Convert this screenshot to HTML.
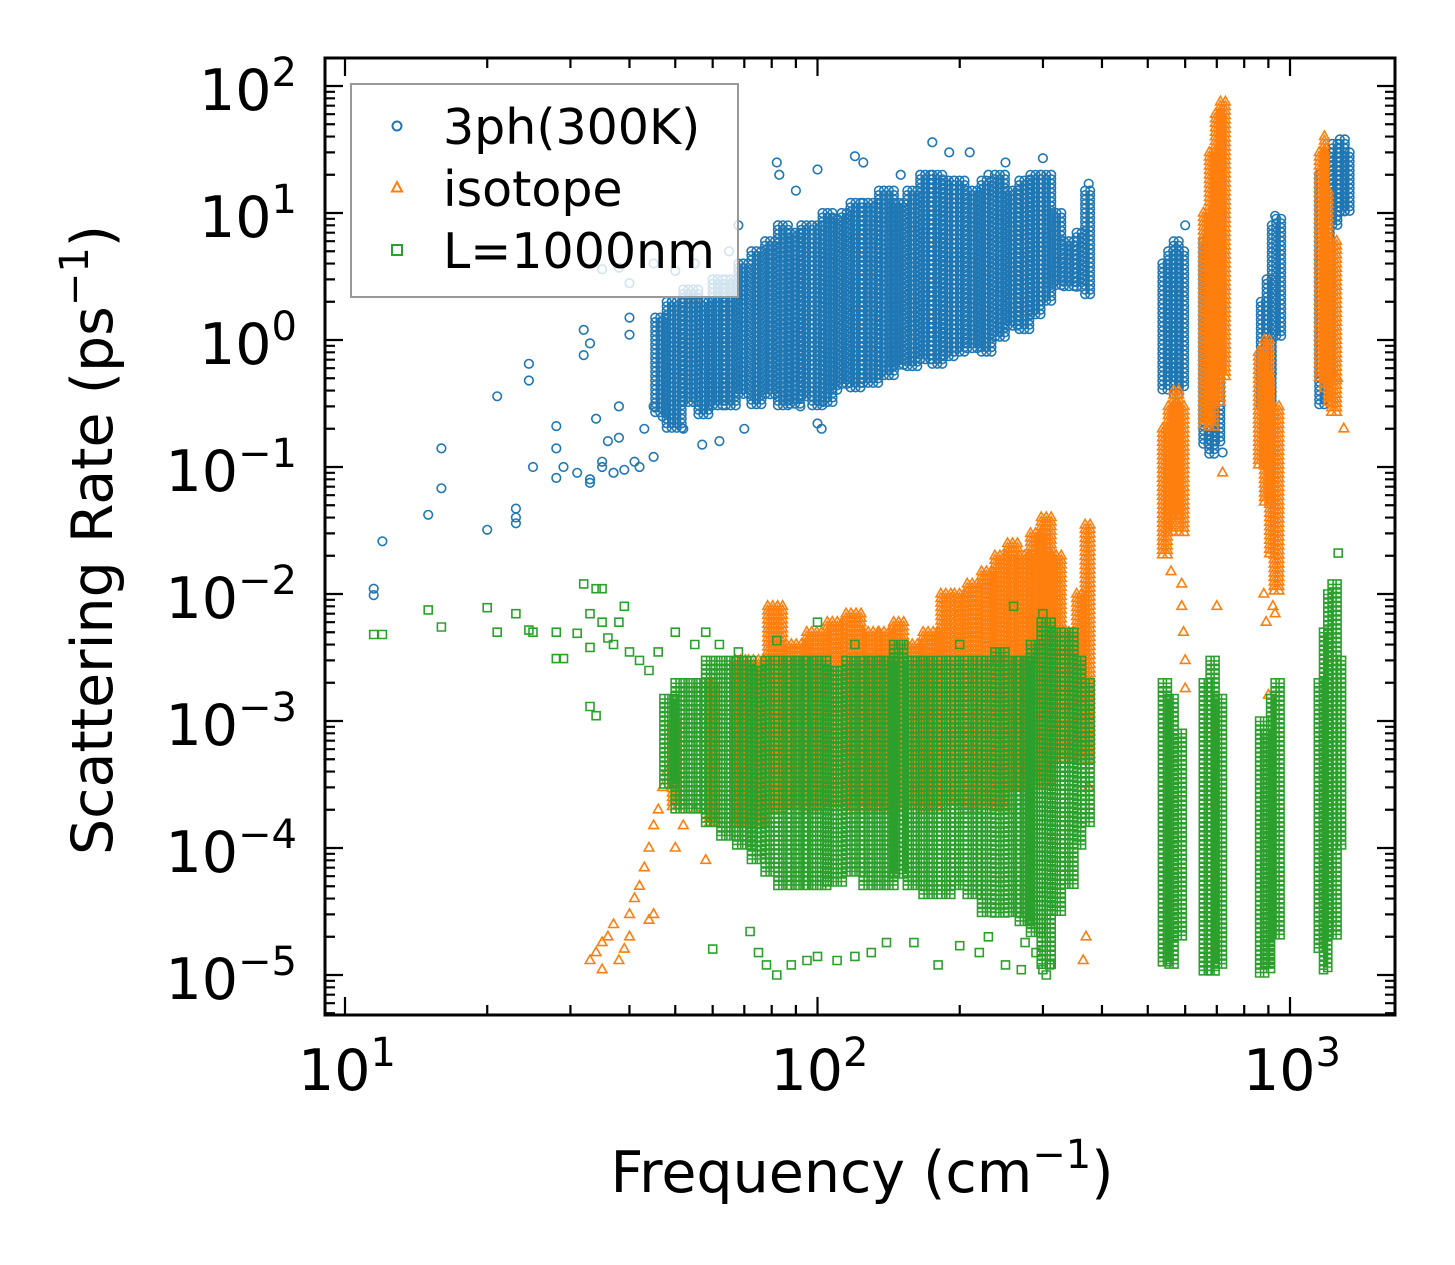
<!DOCTYPE html>
<html><head><meta charset="utf-8">
<style>
html,body{margin:0;padding:0;background:#fff;}
svg{display:block;font-family:"DejaVu Sans","Liberation Sans",sans-serif;}
</style></head>
<body>
<svg id="chart" width="1455" height="1265" viewBox="0 0 1455 1265" xmlns="http://www.w3.org/2000/svg">
<rect x="0" y="0" width="1455" height="1265" fill="#fff"/>
<g id="marks"></g>
<g id="axes"></g>
<g id="legend"></g>
</svg>
<script>
// ---- data (frequency cm^-1, rate ps^-1) ----
// dense bands: [freq, low, high]
const blueBands = [[46,0.25,1.5],[50,0.2,2],[54,0.3,2.5],[58,0.25,2],[62,0.3,3],[66,0.3,3],[70,0.35,4],[75,0.3,5],[80,0.35,6],[85,0.3,8],[90,0.3,7],[95,0.35,8],[100,0.3,8],[105,0.3,10],[110,0.4,9],[115,0.45,10],[120,0.4,12],[130,0.45,12],[140,0.5,15],[150,0.6,12],[160,0.6,15],[170,0.7,20],[180,0.6,20],[190,0.7,18],[200,0.8,18],[215,0.8,15],[230,0.8,18],[245,1,20],[260,1.2,15],[275,1.2,18],[290,1.5,20],[305,2,20],[320,2.5,10],[345,2.5,6],[362,2.5,7],[375,2.2,15],
[545,0.4,4],[560,0.5,5],[575,0.35,6],[590,0.4,5],[665,0.15,6],[685,0.12,5],[705,0.15,3],[880,0.3,2],[905,0.3,3],[925,0.5,8],[945,1,9],[1170,0.3,20],[1200,0.5,30],[1260,8,35],[1290,10,38],[1320,10,30]];
const blueSparse = [[11.5,0.011],[11.5,0.0098],[12,0.026],[15,0.042],[16,0.14],[16,0.068],[20,0.032],[21,0.36],[23,0.04],[23,0.047],[23,0.036],[24.5,0.65],[24.5,0.48],[25,0.1],[28,0.21],[28,0.14],[29,0.1],[28,0.082],[31,0.09],[32,0.76],[32,1.2],[33,0.94],[33,0.075],[33,0.08],[34,0.24],[35,0.1],[35,0.11],[36,0.16],[37,0.09],[38,0.3],[38,0.17],[39,0.095],[40,1.5],[40,1.1],[41,0.11],[42,0.1],[43,0.2],[45,0.3],[45,0.12],[47,0.25],[35,3.6],[38,3.7],[40,2.8],[45,4],[50,3.5],[55,4],[60,3],[65,5],[68,8],[62,0.16],[57,0.15],[52,0.2],[82,25],[83,20],[100,22],[90,15],[120,28],[125,25],[150,20],[175,36],[190,30],[210,30],[230,20],[250,25],[300,27],[375,17],[100,0.22],[102,0.2],[70,0.2],[92,0.3],[600,8],[930,9.5],[720,0.13]];
const orangeBands = [[50,2e-4,1e-3],[60,1.5e-4,2e-3],[68,1.5e-4,3e-3],[75,1.5e-4,3e-3],[82,2e-4,8e-3],[90,2e-4,4e-3],[100,2e-4,5e-3],[110,2e-4,6e-3],[120,2e-4,7e-3],[130,2e-4,5e-3],[140,2e-4,5e-3],[150,2e-4,6e-3],[160,2e-4,4e-3],[175,2e-4,5e-3],[190,2e-4,1e-2],[200,2e-4,1e-2],[215,2e-4,1.2e-2],[230,2e-4,1.5e-2],[245,2e-4,2e-2],[260,3e-4,2.5e-2],[275,3e-4,2e-2],[290,3e-4,3e-2],[305,3e-4,4e-2],[320,5e-4,2e-2],[345,5e-4,5e-3],[362,5e-4,1e-2],[375,5e-4,3.5e-2],
[545,0.02,0.2],[560,0.03,0.3],[575,0.04,0.4],[590,0.03,0.3],[665,0.2,10],[685,0.2,30],[705,0.3,60],[720,0.5,75],[870,0.1,0.8],[895,0.05,1],[915,0.02,0.5],[935,0.01,0.3],[1170,0.5,30],[1195,0.4,40],[1215,0.3,15],[1235,0.25,6]];
const orangeSparse = [[33,1.3e-5],[34,1.5e-5],[35,1.8e-5],[35,1.1e-5],[36,2e-5],[37,2.5e-5],[38,1.3e-5],[39,1.6e-5],[40,2e-5],[40,3e-5],[41,4e-5],[42,5e-5],[43,7e-5],[44,1e-4],[45,1.5e-4],[46,2e-4],[47,3e-4],[48,4e-4],[44,2.7e-5],[45,3e-5],[50,1e-4],[52,1.5e-4],[55,2e-4],[58,8e-5],[560,0.015],[590,0.012],[590,0.008],[595,0.005],[600,0.003],[600,0.0018],[700,0.008],[720,0.09],[880,0.01],[890,0.006],[900,0.0016],[920,0.008],[930,0.007],[1260,0.5],[1300,0.2],[375,3e-4],[370,2e-5],[365,1.3e-5]];
const greenBands = [[48,3e-4,1.5e-3],[52,2e-4,2e-3],[56,2e-4,2e-3],[60,1.5e-4,3e-3],[65,1.2e-4,3e-3],[70,1e-4,3e-3],[75,8e-5,2.5e-3],[80,6e-5,3e-3],[85,5e-5,3e-3],[90,5e-5,3e-3],[100,5e-5,3e-3],[110,5e-5,2.5e-3],[120,6e-5,3e-3],[130,5e-5,3e-3],[140,5e-5,3e-3],[150,6e-5,4e-3],[160,5e-5,3e-3],[175,4e-5,3e-3],[190,4e-5,3e-3],[200,5e-5,3e-3],[215,4e-5,3e-3],[230,3e-5,3e-3],[245,3e-5,3.5e-3],[260,3e-5,3e-3],[275,2.5e-5,3e-3],[290,2e-5,4e-3],[305,1.2e-5,6e-3],[320,3e-5,5e-3],[345,5e-5,5e-3],[362,1e-4,3e-3],[375,1.5e-4,2e-3],
[545,1.2e-5,2e-3],[565,1.2e-5,1.5e-3],[590,2e-5,8e-4],[665,1e-5,2e-3],[690,1e-5,3e-3],[715,1.2e-5,1.5e-3],[875,1e-5,1e-3],[900,1.2e-5,8e-4],[920,1.1e-5,1.5e-3],[940,2e-5,2e-3],[1165,1.5e-5,2e-3],[1190,1.1e-5,5e-3],[1215,1.1e-5,1e-2],[1240,2e-5,1.2e-2],[1270,1e-4,3e-3]];
const greenSparse = [[11.5,4.8e-3],[12,4.8e-3],[15,7.5e-3],[16,5.5e-3],[20,7.8e-3],[21,5e-3],[23,7e-3],[24.5,5.2e-3],[25,5e-3],[28,5e-3],[28,3.1e-3],[29,3.1e-3],[31,4.9e-3],[32,1.2e-2],[33,7e-3],[33,3.8e-3],[34,1.1e-2],[35,1.1e-2],[35,6e-3],[36,4.5e-3],[37,4e-3],[38,6e-3],[39,8e-3],[40,3.5e-3],[33,1.3e-3],[34,1.1e-3],[42,3e-3],[44,2.5e-3],[46,3.5e-3],[50,5e-3],[55,4e-3],[58,5e-3],[62,4e-3],[68,3.5e-3],[60,1.6e-5],[72,2.2e-5],[75,1.5e-5],[78,1.2e-5],[82,1e-5],[88,1.2e-5],[95,1.3e-5],[100,1.4e-5],[110,1.3e-5],[120,1.4e-5],[130,1.5e-5],[140,1.8e-5],[160,1.8e-5],[180,1.2e-5],[200,1.7e-5],[220,1.5e-5],[250,1.2e-5],[270,1.1e-5],[300,1.1e-5],[305,1e-5],[310,1.2e-5],[275,1.8e-5],[290,1.5e-5],[230,2e-5],[240,3e-3],[260,8e-3],[300,7e-3],[100,6e-3],[82,4.3e-3],[120,4e-3],[150,4e-3],[200,4e-3],[1265,2.1e-2]];
const xTickExps = [1,2,3];
const yTickExps = [2,1,0,-1,-2,-3,-4,-5];

// ---- axes ----
const L=325,R=1395,T=58,B=1015;
function xs(f){return 345+472.5*(Math.log10(f)-1);}
function ys(v){return 340-127*Math.log10(v);}
const NS="http://www.w3.org/2000/svg";
function mk(tag,attrs,parent){const e=document.createElementNS(NS,tag);for(const k in attrs)e.setAttribute(k,attrs[k]);parent.appendChild(e);return e;}

const marks=document.getElementById('marks');
function circ(x,y){const r=4.3;return `M${(x-r).toFixed(1)} ${y.toFixed(1)}a${r} ${r} 0 1 0 ${2*r} 0a${r} ${r} 0 1 0 ${-2*r} 0`;}
function tri(x,y){return `M${x.toFixed(1)} ${(y-5.5).toFixed(1)}L${(x+4.8).toFixed(1)} ${(y+3).toFixed(1)}L${(x-4.8).toFixed(1)} ${(y+3).toFixed(1)}Z`;}
function sq(x,y){return `M${(x-4).toFixed(1)} ${(y-4).toFixed(1)}h8v8h-8Z`;}
function buildPath(bands,sparse,shape){
  let d='';
  for(let i=0;i<bands.length;i++){
    const cx=xs(bands[i][0]);
    let x0=cx-3,x1=cx+3;
    if(i>0){const px=xs(bands[i-1][0]);if(cx-px<22)x0=(cx+px)/2;}
    if(i<bands.length-1){const nx=xs(bands[i+1][0]);if(nx-cx<22)x1=(cx+nx)/2;}
    const yt=ys(bands[i][2]),yb=ys(bands[i][1]);
    for(let x=x0;x<=x1+0.5;x+=5){for(let y=yt;y<=yb;y+=4.5){d+=shape(x,y);}}
  }
  for(const p of sparse)d+=shape(xs(p[0]),ys(p[1]));
  return d;
}
const pb=mk('path',{d:buildPath(blueBands,blueSparse,circ),fill:'none',stroke:'#1f77b4','stroke-width':1.6},marks);


const po=mk('path',{d:buildPath(orangeBands,orangeSparse,tri),fill:'none',stroke:'#ff7f0e','stroke-width':1.6},marks);


const pg=mk('path',{d:buildPath(greenBands,greenSparse,sq),fill:'none',stroke:'#2ca02c','stroke-width':1.6},marks);



const axes=document.getElementById('axes');
let td='';
for(let e=0;e<=3;e++){for(let m=1;m<10;m++){const f=m*Math.pow(10,e);const x=xs(f);if(x<L||x>R)continue;const len=m===1?18:10;td+=`M${x} ${B}v${-len}M${x} ${T}v${len}`;}}
for(let e=-6;e<=2;e++){for(let m=1;m<10;m++){const v=m*Math.pow(10,e);const y=ys(v);if(y<T||y>B)continue;const len=m===1?18:10;td+=`M${L} ${y}h${len}M${R} ${y}h${-len}`;}}
const ticks=mk('path',{d:td,stroke:'#000','stroke-width':2.2,fill:'none'},axes);


const frame=mk('rect',{x:L,y:T,width:R-L,height:B-T,fill:'none',stroke:'#000','stroke-width':3},axes);


function powLabel(x,y,exp,anchor,name){
  const t=mk('text',{x:x,y:y,'font-size':57,'text-anchor':anchor,fill:'#000'},axes);
  
  
  const a=document.createElementNS(NS,'tspan');a.textContent='10';t.appendChild(a);
  const s=document.createElementNS(NS,'tspan');s.setAttribute('dy','-24');s.setAttribute('font-size','40');s.textContent=String(exp).replace('-','\u2212');t.appendChild(s);
}
for(const e of xTickExps)powLabel(xs(Math.pow(10,e))+2,1090,e,'middle','x-tick-label');
for(const e of yTickExps)powLabel(297,ys(Math.pow(10,e))+24,e,'end','y-tick-label');
</script>
<script>
(function(){
const NS="http://www.w3.org/2000/svg";
const svg=document.getElementById('chart');
const xl=document.createElementNS(NS,'text');
xl.setAttribute('x','862');xl.setAttribute('y','1192');xl.setAttribute('font-size','57');xl.setAttribute('text-anchor','middle');


xl.innerHTML='Frequency (cm<tspan dy="-24" font-size="40">\u22121</tspan><tspan dy="24">)</tspan>';
svg.appendChild(xl);
const yl=document.createElementNS(NS,'text');
yl.setAttribute('transform','translate(112,540) rotate(-90)');yl.setAttribute('font-size','57');yl.setAttribute('text-anchor','middle');


yl.innerHTML='Scattering Rate (ps<tspan dy="-24" font-size="40">\u22121</tspan><tspan dy="24">)</tspan>';
svg.appendChild(yl);
})();
</script>
<script>
(function(){
const NS="http://www.w3.org/2000/svg";
const lg=document.getElementById('legend');
const box=document.createElementNS(NS,'rect');
box.setAttribute('x','351');box.setAttribute('y','84');box.setAttribute('width','387');box.setAttribute('height','213');
box.setAttribute('fill','#fff');box.setAttribute('fill-opacity','0.8');box.setAttribute('stroke','#999');box.setAttribute('stroke-width','2');


lg.appendChild(box);
const entries=[['3ph(300K)','#1f77b4','c',126,'legend-entry-3ph'],['isotope','#ff7f0e','t',188,'legend-entry-isotope'],['L=1000nm','#2ca02c','s',250,'legend-entry-boundary']];
for(const en of entries){
  const g=document.createElementNS(NS,'g');
  
  
  let m;
  if(en[2]==='c'){m=document.createElementNS(NS,'circle');m.setAttribute('cx','397');m.setAttribute('cy',en[3]);m.setAttribute('r','4.5');}
  else if(en[2]==='t'){m=document.createElementNS(NS,'path');m.setAttribute('d',`M397 ${en[3]-6}L402 ${en[3]+3.5}L392 ${en[3]+3.5}Z`);}
  else {m=document.createElementNS(NS,'rect');m.setAttribute('x','392');m.setAttribute('y',en[3]-5);m.setAttribute('width','10');m.setAttribute('height','10');}
  m.setAttribute('fill','none');m.setAttribute('stroke',en[1]);m.setAttribute('stroke-width','2');
  
  
  g.appendChild(m);
  const t=document.createElementNS(NS,'text');
  t.setAttribute('x','443');t.setAttribute('y',en[3]+18);t.setAttribute('font-size','49');t.textContent=en[0];
  
  
  g.appendChild(t);
  lg.appendChild(g);
}
})();
</script>
</body></html>
